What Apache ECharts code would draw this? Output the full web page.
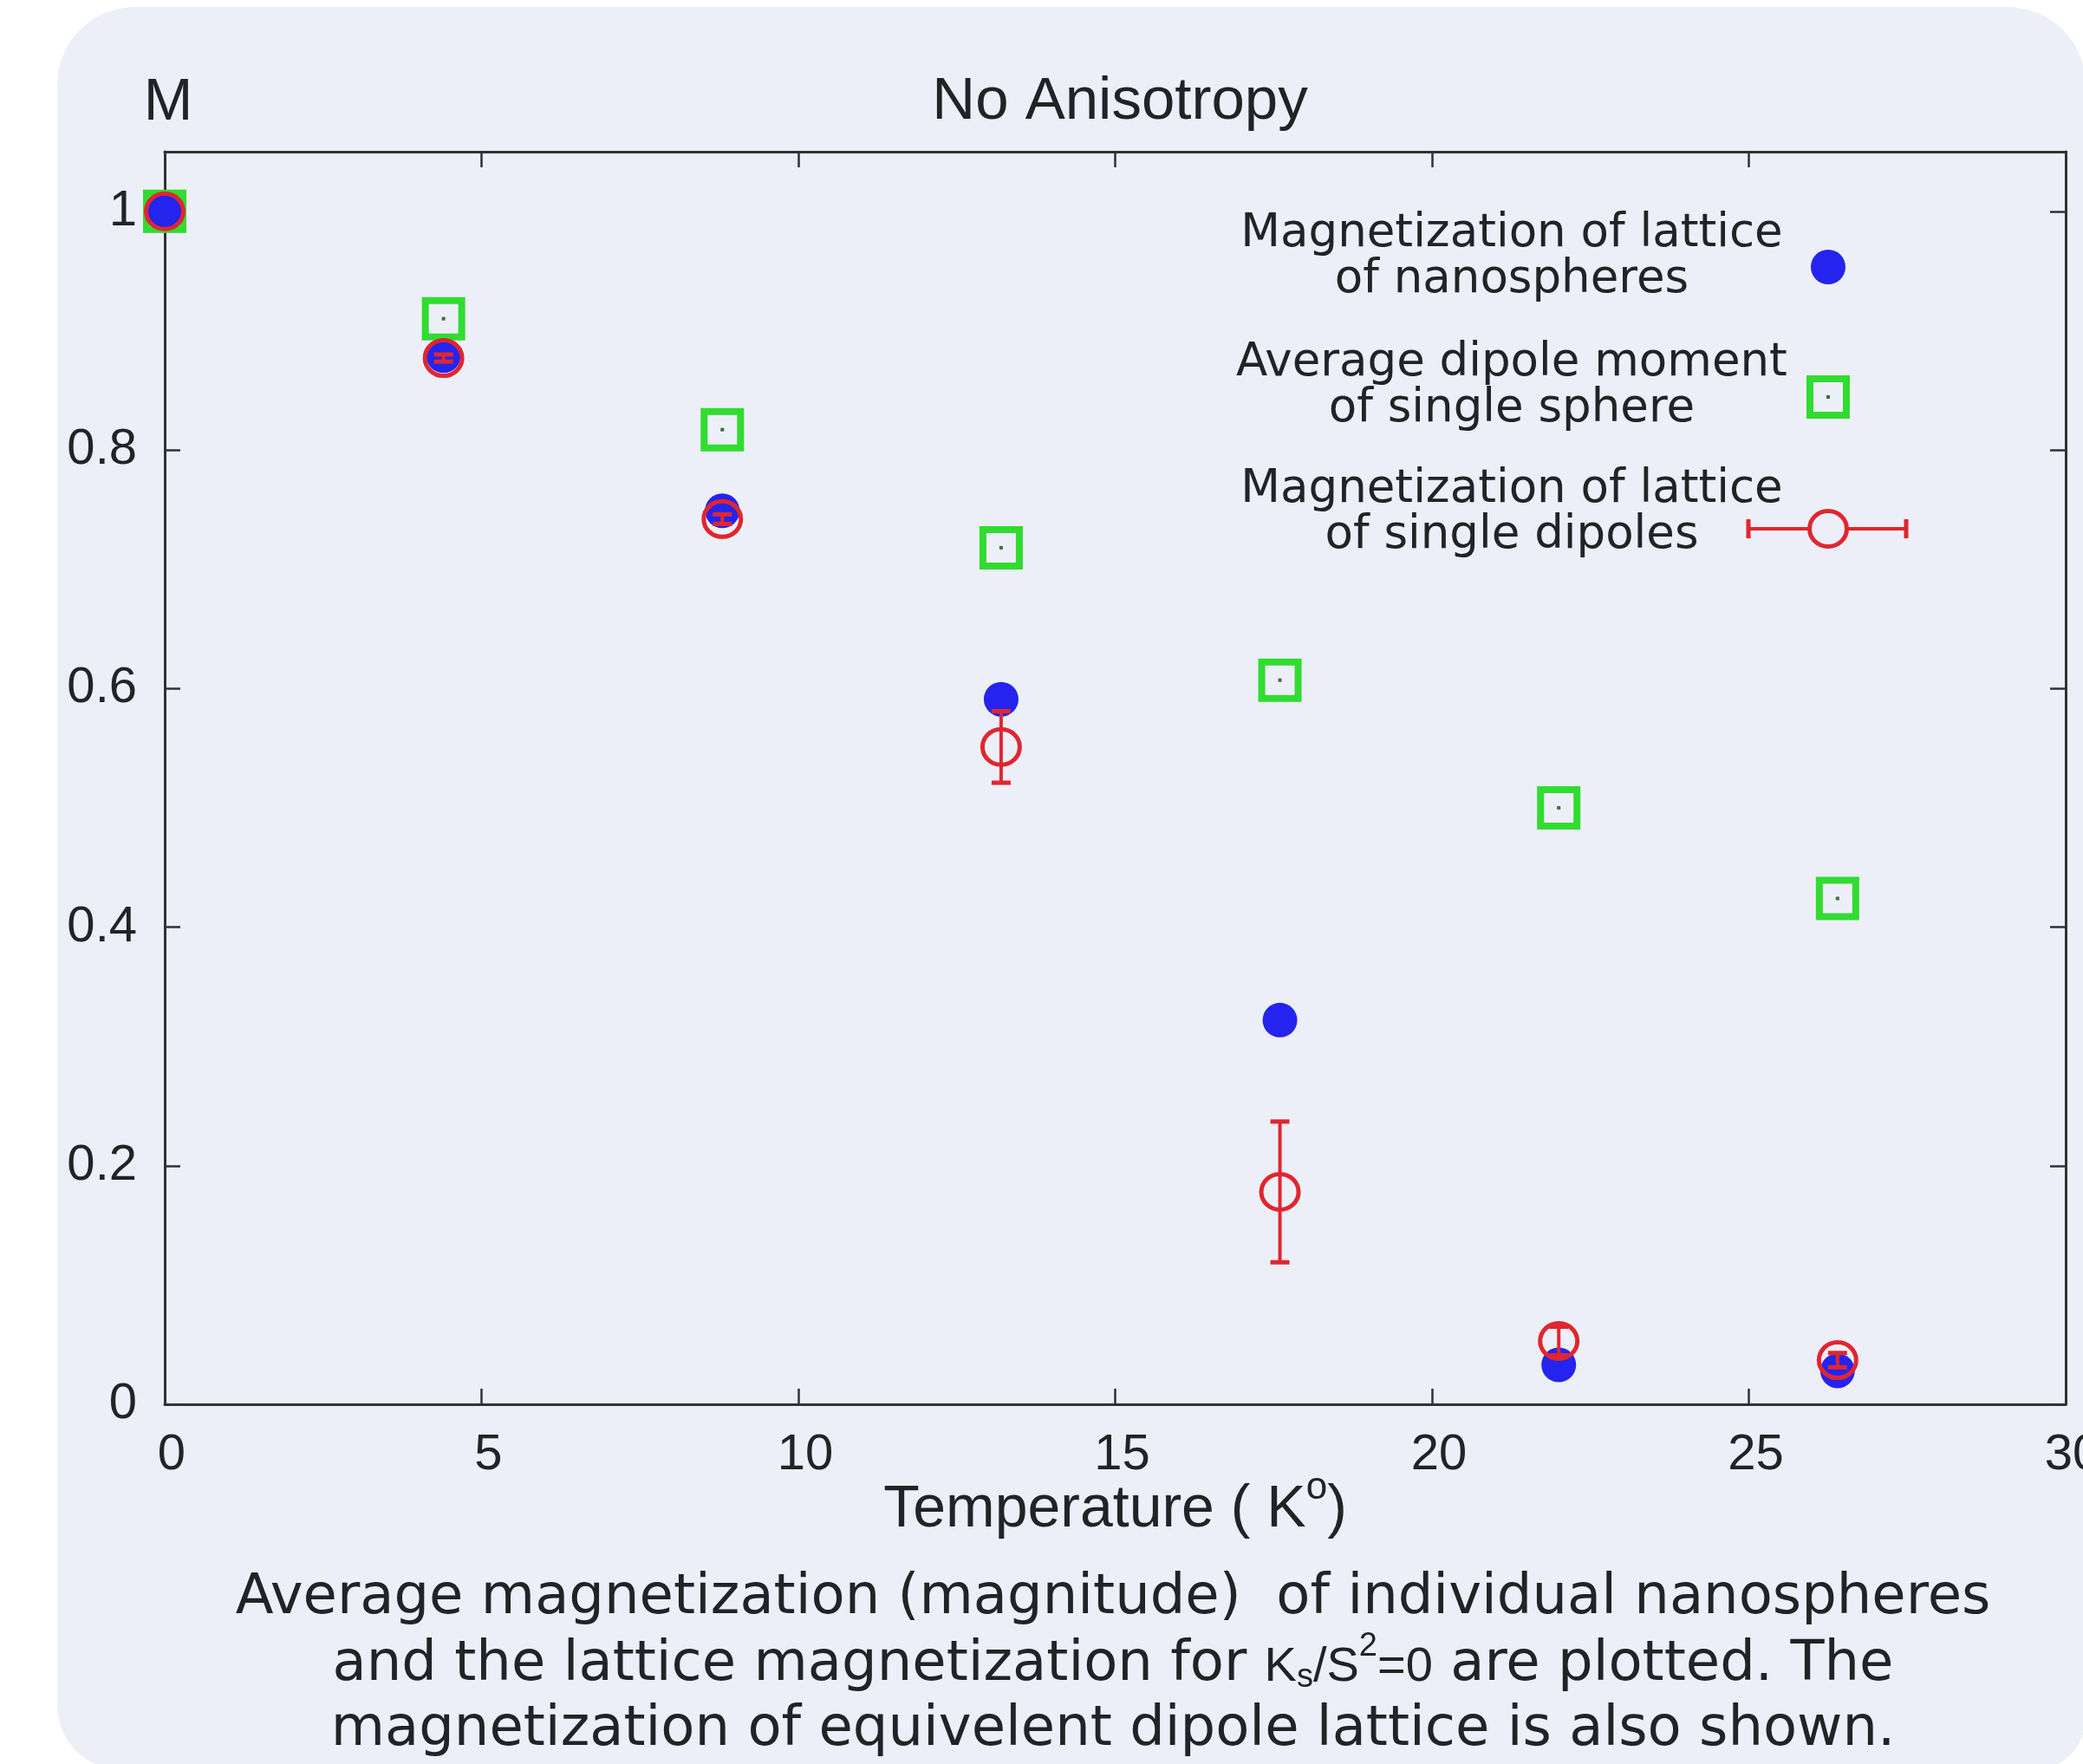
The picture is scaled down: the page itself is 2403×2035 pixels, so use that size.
<!DOCTYPE html>
<html>
<head>
<meta charset="utf-8">
<title>No Anisotropy</title>
<script src="https://cdn.jsdelivr.net/npm/echarts@6/dist/echarts.min.js"></script>
<style>
  html, body { margin: 0; padding: 0; background: #ffffff; }
  #chart { width: 2403px; height: 2035px; }
</style>
</head>
<body>
<div id="chart"></div>
<script>
// Temperature points (K) shared by all three data sets
const temperatures = [0, 4.4, 8.8, 13.2, 17.6, 22.0, 26.4];
// Magnetization of the lattice of nanospheres
const latticeNanospheres = [1.0, 0.879, 0.749, 0.591, 0.322, 0.033, 0.028];
// Average dipole moment of a single sphere
const singleSphereDipole = [1.0, 0.910, 0.817, 0.718, 0.607, 0.500, 0.424];
// Magnetization of the lattice of single dipoles, with its error
const dipoleLattice = [1.0, 0.877, 0.742, 0.551, 0.178, 0.053, 0.037];
const dipoleLatticeErr = [0.0, 0.003, 0.004, 0.030, 0.059, 0.012, 0.006];
// Axis ticks
const xTicks = [0, 5, 10, 15, 20, 25, 30];
const yTicks = [0, 0.2, 0.4, 0.6, 0.8, 1];

const legendLabels = [
  'Magnetization of lattice\nof nanospheres',
  'Average dipole moment\nof single sphere',
  'Magnetization of lattice\nof single dipoles'
];
const captionLines = [
  'Average magnetization (magnitude)  of individual nanospheres',
  'and the lattice magnetization for {k|K}{sub|s}{k|/S}{sup|2}{k|=0} are plotted. The',
  'magnetization of equivelent dipole lattice is also shown.'
];

const BLUE = '#2424ee';
const GREEN = '#30dc30';
const RED = '#e0262f';
const AXIS = '#303236';
const TEXT = '#222326';
const PANEL = '#edeff8';

const chart = echarts.init(document.getElementById('chart'), null, { renderer: 'canvas' });

const SQ = 21;      // half side of the open square marker
const RX = 21.5, RY = 20.5; // open circle radii

function renderSquare(params, api) {
  const c = api.coord([api.value(0), api.value(1)]);
  return {
    type: 'group',
    children: [
      { type: 'rect', shape: { x: c[0] - SQ, y: c[1] - SQ, width: 2 * SQ, height: 2 * SQ },
        style: { fill: null, stroke: GREEN, lineWidth: 8 } },
      { type: 'rect', shape: { x: c[0] - 2, y: c[1] - 2, width: 4, height: 4 },
        style: { fill: '#3c6e3c' } }
    ]
  };
}

function renderDipole(params, api) {
  const x = api.value(0), y = api.value(1), e = api.value(2);
  const c = api.coord([x, y]);
  const hi = api.coord([x, y + e]);
  const lo = api.coord([x, y - e]);
  const cap = 11;
  const bar = { stroke: RED, lineWidth: 4 };
  const capStyle = { stroke: RED, lineWidth: 5 };
  const children = [];
  if (e > 0) {
    children.push(
      { type: 'line', shape: { x1: c[0], y1: hi[1], x2: c[0], y2: lo[1] }, style: bar },
      { type: 'line', shape: { x1: c[0] - cap, y1: hi[1], x2: c[0] + cap, y2: hi[1] }, style: capStyle },
      { type: 'line', shape: { x1: c[0] - cap, y1: lo[1], x2: c[0] + cap, y2: lo[1] }, style: capStyle }
    );
  }
  children.push({ type: 'ellipse', shape: { cx: c[0], cy: c[1], rx: RX, ry: RY },
    style: { fill: null, stroke: RED, lineWidth: 5 } });
  return { type: 'group', children: children };
}

const axisLineStyle = { color: AXIS, width: 3 };
const tickStyle = { color: AXIS, width: 2.5 };

// Legend block (text centred, symbol on the right)
const legendX = 1744, symX = 2109;
const legendRows = [297, 446, 592];
const symRows = [308, 458, 610];
const legendGraphics = [];
legendLabels.forEach(function (label, i) {
  legendGraphics.push({
    type: 'text', x: legendX, y: legendRows[i], silent: true,
    style: { text: label, fill: TEXT, font: '53px "DejaVu Sans"', lineHeight: 53,
      align: 'center', verticalAlign: 'middle' }
  });
});
legendGraphics.push({ type: 'circle', shape: { cx: symX, cy: symRows[0], r: 20 }, style: { fill: BLUE } });
legendGraphics.push({ type: 'rect', shape: { x: symX - SQ, y: symRows[1] - SQ, width: 2 * SQ, height: 2 * SQ },
  style: { fill: null, stroke: GREEN, lineWidth: 8 } });
legendGraphics.push({ type: 'rect', shape: { x: symX - 2, y: symRows[1] - 2, width: 4, height: 4 },
  style: { fill: '#3c6e3c' } });
legendGraphics.push({ type: 'line', shape: { x1: 2017, y1: symRows[2], x2: 2199, y2: symRows[2] },
  style: { stroke: RED, lineWidth: 4 } });
legendGraphics.push({ type: 'line', shape: { x1: 2017, y1: symRows[2] - 11, x2: 2017, y2: symRows[2] + 11 },
  style: { stroke: RED, lineWidth: 5 } });
legendGraphics.push({ type: 'line', shape: { x1: 2199, y1: symRows[2] - 11, x2: 2199, y2: symRows[2] + 11 },
  style: { stroke: RED, lineWidth: 5 } });
legendGraphics.push({ type: 'ellipse', shape: { cx: symX, cy: symRows[2], rx: RX, ry: RY },
  style: { fill: PANEL, stroke: RED, lineWidth: 5 } });

// Caption under the plot
const captionY = [1844, 1921, 1996];
const captionGraphics = captionLines.map(function (line, i) {
  return {
    type: 'text', x: 1284, y: captionY[i], silent: true,
    style: {
      text: line, fill: TEXT, font: '64px "DejaVu Sans"', align: 'center', verticalAlign: 'middle',
      rich: {
        k: { fontFamily: 'Liberation Sans', fontSize: 56, fill: TEXT, padding: [6, 0, 0, 0] },
        sub: { fontFamily: 'Liberation Sans', fontSize: 38, fill: TEXT, padding: [30, 0, 0, 0] },
        sup: { fontFamily: 'Liberation Sans', fontSize: 38, fill: TEXT, padding: [0, 0, 42, 0] }
      }
    }
  };
});

const option = {
  backgroundColor: '#ffffff',
  animation: false,
  title: {
    text: 'No Anisotropy', left: 1287, top: 78, textAlign: 'center',
    textStyle: { fontFamily: 'Liberation Sans', fontSize: 69, fontWeight: 'normal', color: TEXT }
  },
  grid: { left: 190, right: 20, top: 175, bottom: 415, containLabel: false, outerBoundsMode: 'none' },
  xAxis: [
    {
      type: 'value', min: 0, max: 30, interval: 5, position: 'bottom',
      name: 'Temperature ( K{sup|o})', nameLocation: 'middle', nameGap: 75, nameMoveOverlap: false,
      nameTextStyle: {
        fontFamily: 'Liberation Sans', fontSize: 68, color: TEXT,
        rich: { sup: { fontFamily: 'Liberation Sans', fontSize: 44, color: TEXT, padding: [0, 0, 50, 0] } }
      },
      axisLine: { show: true, onZero: false, lineStyle: axisLineStyle },
      axisTick: { show: true, inside: true, length: 18, lineStyle: tickStyle, customValues: xTicks },
      axisLabel: { margin: 30, fontFamily: 'Liberation Sans', fontSize: 58, color: TEXT,
        padding: [0, 0, 0, 16], customValues: xTicks },
      splitLine: { show: false }
    },
    {
      type: 'value', min: 0, max: 30, interval: 5, position: 'top',
      axisLine: { show: true, onZero: false, lineStyle: axisLineStyle },
      axisTick: { show: true, inside: true, length: 18, lineStyle: tickStyle, customValues: xTicks },
      axisLabel: { show: false },
      splitLine: { show: false }
    }
  ],
  yAxis: [
    {
      type: 'value', min: 0, max: 1.05, position: 'left',
      name: 'M', nameLocation: 'end', nameGap: 22,
      nameTextStyle: { fontFamily: 'Liberation Sans', fontSize: 68, color: TEXT, padding: [0, 0, 0, 8] },
      axisLine: { show: true, onZero: false, lineStyle: axisLineStyle },
      axisTick: { show: true, inside: true, length: 18, lineStyle: tickStyle, customValues: yTicks },
      axisLabel: { margin: 32, fontFamily: 'Liberation Sans', fontSize: 58, color: TEXT, customValues: yTicks },
      splitLine: { show: false }
    },
    {
      type: 'value', min: 0, max: 1.05, position: 'right',
      axisLine: { show: true, onZero: false, lineStyle: axisLineStyle },
      axisTick: { show: true, inside: true, length: 18, lineStyle: tickStyle, customValues: yTicks },
      axisLabel: { show: false },
      splitLine: { show: false }
    }
  ],
  graphic: [
    {
      type: 'rect', z: -100, silent: true,
      shape: { x: 66, y: 8, width: 2340, height: 2034, r: [90, 90, 60, 75] },
      style: { fill: PANEL }
    }
  ].concat(legendGraphics, captionGraphics),
  series: [
    {
      name: 'Average dipole moment of single sphere', type: 'custom', z: 2, clip: false,
      renderItem: renderSquare,
      data: temperatures.map(function (t, i) { return [t, singleSphereDipole[i]]; })
    },
    {
      name: 'Magnetization of lattice of nanospheres', type: 'scatter', z: 3, clip: false,
      symbol: 'circle', symbolSize: 40,
      itemStyle: { color: BLUE, opacity: 1 },
      data: temperatures.map(function (t, i) { return [t, latticeNanospheres[i]]; })
    },
    {
      name: 'Magnetization of lattice of single dipoles', type: 'custom', z: 4, clip: false,
      renderItem: renderDipole,
      data: temperatures.map(function (t, i) { return [t, dipoleLattice[i], dipoleLatticeErr[i]]; })
    }
  ]
};

chart.setOption(option);
</script>
</body>
</html>
